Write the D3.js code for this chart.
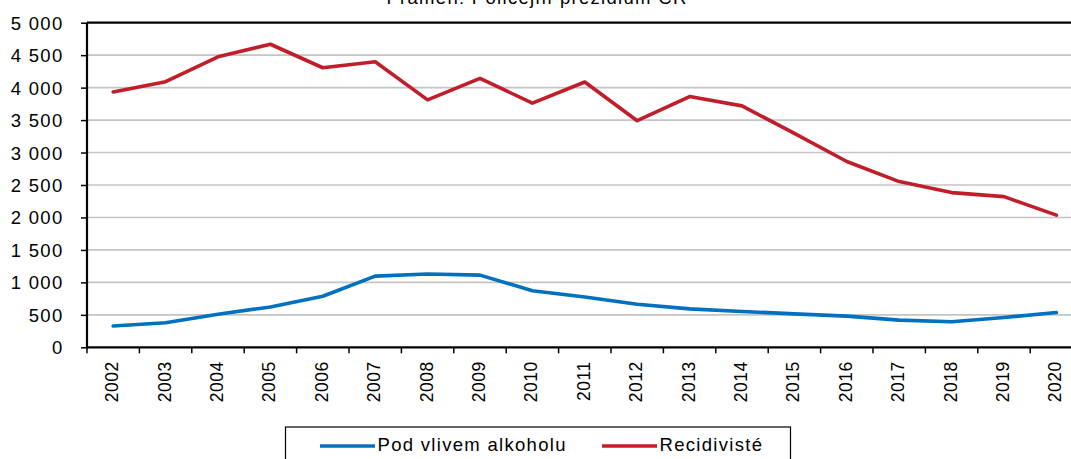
<!DOCTYPE html>
<html>
<head>
<meta charset="utf-8">
<script src="https://cdn.jsdelivr.net/npm/d3@7"></script>
<style>
  body { margin: 0; background: #fff; }
  text { font-family: "Liberation Sans", Arial, sans-serif; fill: #000; }
</style>
</head>
<body>
<div id="chart"></div>
<script>
// data
var years = ["2002","2003","2004","2005","2006","2007","2008","2009","2010","2011",
             "2012","2013","2014","2015","2016","2017","2018","2019","2020"];
var alkohol = [327, 378, 510, 622, 786, 1097, 1128, 1112, 872, 776,
               663, 592, 551, 515, 480, 418, 393, 459, 536];
var recidiviste = [3934, 4092, 4474, 4668, 4306, 4398, 3811, 4143, 3760, 4087,
                   3490, 3862, 3719, 3295, 2862, 2553, 2383, 2321, 2036];
var yTicks = [0, 500, 1000, 1500, 2000, 2500, 3000, 3500, 4000, 4500, 5000];
var seriesNames = ["Pod vlivem alkoholu", "Recidivisté"];
var seriesColors = ["#0070c0", "#c21d2a"];
var sourceText = "Pramen: Policejní prezidium ČR";

//chart set ups
var svgWidth = 1071;
var svgHeight = 459;
var margin = { top: 22.7, left: 87 };
var bandW = 52.4;
var chartWidth = bandW * years.length;
var chartHeight = 324.6;

var svg = d3.select('#chart')
            .append('svg')
            .attr('width', svgWidth)
            .attr('height', svgHeight);

// source line at the top (cut off in the original too)
svg.append('text')
   .attr('x', 537)
   .attr('y', 3.5)
   .attr('text-anchor', 'middle')
   .style('font-size', '18.5px')
   .style('letter-spacing', '1.3px')
   .text(sourceText);

var chartGroup = svg.append('g')
                    .attr('transform', `translate(${margin.left},${margin.top})`);

// scales
var xBand = d3.scaleBand().domain(years).range([0, chartWidth]).padding(0);
var yLinearScale = d3.scaleLinear().domain([0, 5000]).range([chartHeight, 0]);

var czLocale = d3.formatLocale({ decimal: ",", thousands: "\u00a0", grouping: [3], currency: ["", ""] });
var fmt = czLocale.format(",d");

// gridlines
chartGroup.append('g')
  .selectAll('line')
  .data(yTicks.filter(d => d > 0 && d < 5000))
  .enter()
  .append('line')
  .attr('x1', 0)
  .attr('x2', chartWidth)
  .attr('y1', d => yLinearScale(d))
  .attr('y2', d => yLinearScale(d))
  .attr('stroke', '#c4c4c4')
  .attr('stroke-width', 1.6);

// y axis
var leftAxis = d3.axisLeft(yLinearScale).tickValues(yTicks).tickSize(6).tickPadding(17.5).tickFormat(fmt);
var yAxis = chartGroup.append('g').call(leftAxis);
yAxis.select('.domain').remove();
yAxis.selectAll('.tick line').attr('stroke', '#000').attr('stroke-width', 1.5);
yAxis.selectAll('.tick text')
  .attr('font-family', null)
  .style('font-size', '18.5px')
  .style('letter-spacing', '1.3px')
  .attr('dy', '0.35em');

// x axis: ticks between categories, rotated year labels
var bottomAxis = d3.axisBottom(xBand).tickSize(6).tickSizeOuter(0);
var xAxis = chartGroup.append('g')
  .attr('transform', `translate(0,${chartHeight})`)
  .call(bottomAxis);
xAxis.select('.domain').remove();
xAxis.selectAll('.tick line')
  .attr('transform', `translate(${-bandW / 2},0)`)
  .attr('stroke', '#000')
  .attr('stroke-width', 1.5);
xAxis.selectAll('.tick text')
  .attr('font-family', null)
  .attr('y', null)
  .attr('dy', null)
  .attr('text-anchor', 'end')
  .attr('transform', 'translate(5,14) rotate(-90)')
  .style('font-size', '17.5px')
  .style('letter-spacing', '0.5px');

// frame: top border, left and bottom axis lines
chartGroup.append('line')
  .attr('x1', 0).attr('x2', chartWidth)
  .attr('y1', 0).attr('y2', 0)
  .attr('stroke', '#000').attr('stroke-width', 2.2);
chartGroup.append('line')
  .attr('x1', 0).attr('x2', 0)
  .attr('y1', 0).attr('y2', chartHeight + 1)
  .attr('stroke', '#000').attr('stroke-width', 2.2);
chartGroup.append('line')
  .attr('x1', 0).attr('x2', chartWidth)
  .attr('y1', chartHeight).attr('y2', chartHeight)
  .attr('stroke', '#000').attr('stroke-width', 2.2);

// lines
var lineGen = d3.line()
  .x((d, i) => xBand(years[i]) + xBand.bandwidth() / 2)
  .y(d => yLinearScale(d));

[alkohol, recidiviste].forEach(function(series, k) {
  chartGroup.append('path')
    .datum(series)
    .attr('d', lineGen)
    .attr('fill', 'none')
    .attr('stroke', seriesColors[k])
    .attr('stroke-width', 3.6)
    .attr('stroke-linejoin', 'round')
    .attr('stroke-linecap', 'round');
});

// legend
var legend = svg.append('g');
legend.append('rect')
  .attr('x', 285.5)
  .attr('y', 427)
  .attr('width', 505)
  .attr('height', 60)
  .attr('fill', '#fff')
  .attr('stroke', '#000')
  .attr('stroke-width', 1.2);
var legendX = [320, 602];
seriesNames.forEach(function(name, k) {
  legend.append('line')
    .attr('x1', legendX[k]).attr('x2', legendX[k] + 55)
    .attr('y1', 446).attr('y2', 446)
    .attr('stroke', seriesColors[k])
    .attr('stroke-width', 3.6);
  legend.append('text')
    .attr('x', legendX[k] + 57.5)
    .attr('y', 450.5)
    .style('font-size', '18.5px')
    .style('letter-spacing', '1.3px')
    .text(name);
});
</script>
</body>
</html>
